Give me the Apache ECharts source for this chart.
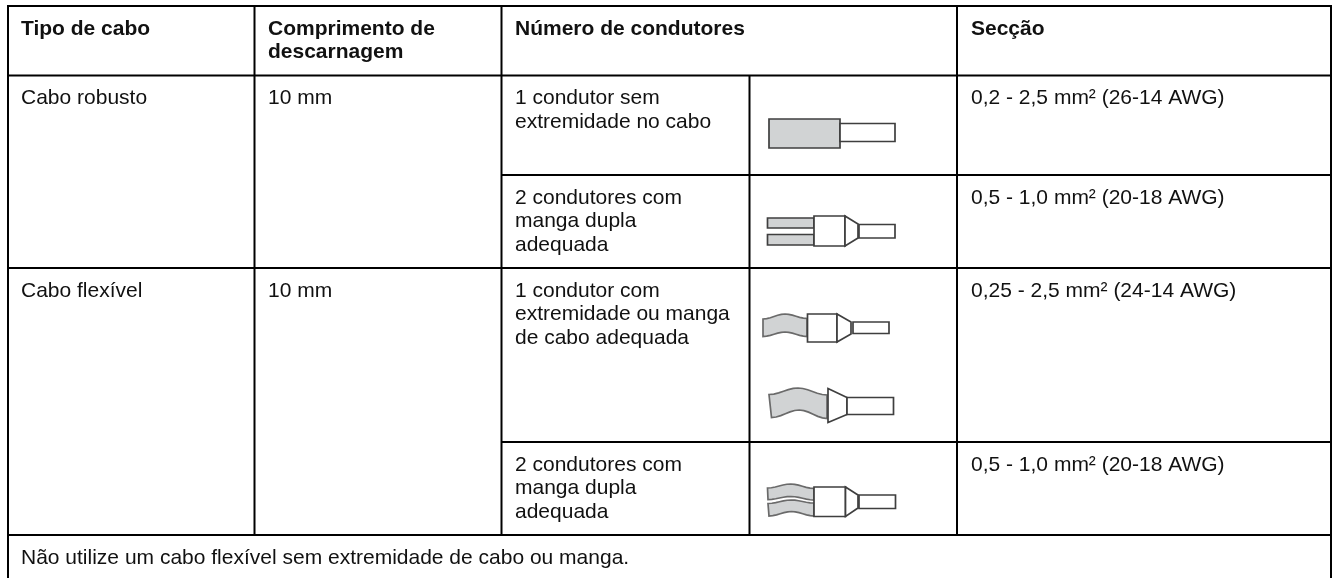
<!DOCTYPE html>
<html><head><meta charset="utf-8">
<style>html,body{margin:0;padding:0;background:#fff}#c{width:1334px;height:578px}</style>
<script src="https://cdn.jsdelivr.net/npm/echarts@6/dist/echarts.min.js"></script>
</head><body><div id="c"></div>
<script>
// ---- table content ----
const headers = ["Tipo de cabo", "Comprimento de\ndescarnagem", "Número de condutores", "Secção"];
const cableTypes = ["Cabo robusto", "Cabo flexível"];
const stripLengths = ["10 mm", "10 mm"];
const conductorKinds = [
  "1 condutor sem\nextremidade no cabo",
  "2 condutores com\nmanga dupla\nadequada",
  "1 condutor com\nextremidade ou manga\nde cabo adequada",
  "2 condutores com\nmanga dupla\nadequada"
];
const sections = [
  "0,2 - 2,5 mm² (26-14 AWG)",
  "0,5 - 1,0 mm² (20-18 AWG)",
  "0,25 - 2,5 mm² (24-14 AWG)",
  "0,5 - 1,0 mm² (20-18 AWG)"
];
const footnote = "Não utilize um cabo flexível sem extremidade de cabo ou manga.";

// ---- layout ----
const colX = [8, 254.5, 501.5, 749.5, 957, 1331];
const rowY = [6, 75.5, 175, 268, 442, 535];
const FONT = '"Liberation Sans", Arial, sans-serif';
const FS = 21, LH = 23.5;
const INK = '#111';

const g = [];
function line(x1, y1, x2, y2) {
  g.push({type:'line', shape:{x1,y1,x2,y2}, style:{stroke:'#000', lineWidth:2}, silent:true});
}
function text(x, y, t, bold) {
  g.push({type:'text', x, y, silent:true, style:{text:t, x:0, y:0, fill:INK,
    font:(bold?'bold ':'')+FS+'px '+FONT, lineHeight:LH, verticalAlign:'top', align:'left'}});
}
line(colX[0], rowY[0]-1, colX[0], 578);
line(colX[5], rowY[0]-1, colX[5], 578);
line(colX[0], rowY[0], colX[5], rowY[0]);
line(colX[0], rowY[1], colX[5], rowY[1]);
line(colX[2], rowY[2], colX[5], rowY[2]);
line(colX[0], rowY[3], colX[5], rowY[3]);
line(colX[2], rowY[4], colX[5], rowY[4]);
line(colX[0], rowY[5], colX[5], rowY[5]);
line(colX[1], rowY[0], colX[1], rowY[5]);
line(colX[2], rowY[0], colX[2], rowY[5]);
line(colX[3], rowY[1], colX[3], rowY[5]);
line(colX[4], rowY[0], colX[4], rowY[5]);
const TX = [21, 268, 515, 0, 971];
const PAD = 11;
[0,1,2].forEach(i => text(TX[i], rowY[0]+PAD, headers[i], true));
text(TX[4], rowY[0]+PAD, headers[3], true);
[0,1].forEach(i => {
  const ry = i === 0 ? rowY[1] : rowY[3];
  text(TX[0], ry+PAD, cableTypes[i]);
  text(TX[1], ry+PAD, stripLengths[i]);
});
[0,1,2,3].forEach(i => {
  text(TX[2], rowY[i+1]+PAD, conductorKinds[i]);
  text(TX[4], rowY[i+1]+PAD, sections[i]);
});
text(TX[0], rowY[5]+PAD, footnote);

// cable illustrations
const EDGE = '#3f3f3f', GREY = '#d1d3d4', WL = 1.7;
function rect(x1,y1,x2,y2,fill){
  g.push({type:'rect', shape:{x:x1,y:y1,width:x2-x1,height:y2-y1}, style:{fill:fill||'#fff', stroke:EDGE, lineWidth:WL}, silent:true});
}
function poly(points,fill){
  g.push({type:'polygon', shape:{points}, style:{fill:fill||'#fff', stroke:EDGE, lineWidth:WL}, silent:true});
}
function ease(a,b,t){ return a+(b-a)*(1-Math.cos(Math.PI*t))/2; }
function wave(xl,xr,tl,tm,tr,bl,bm,br,xl2){
  const pts=[], N=12;
  for(let i=0;i<=N;i++){const t=i/N; pts.push([xl+(xr-xl)*t, t<.5?ease(tl,tm,t*2):ease(tm,tr,t*2-1)]);}
  for(let i=N;i>=0;i--){const t=i/N; pts.push([xl2+(xr-xl2)*t, t<.5?ease(bl,bm,t*2):ease(bm,br,t*2-1)]);}
  g.push({type:'polygon', shape:{points:pts}, style:{fill:GREY, stroke:'#6a6a6a', lineWidth:WL}, silent:true});
}
rect(769,119,840,148,GREY); rect(840,123.5,895,141.5);
rect(767.5,218,814,228,GREY); rect(767.5,234.5,814,245,GREY);
rect(814,216,845,246); poly([[845,216],[858,224],[858,238],[845,246]]); rect(859,224.5,895,238);
wave(763,807,319,314,318.5,336.5,332,336.5,763);
rect(807.5,314,837,342); poly([[837,314],[851,322],[851,334],[837,342]]); rect(853,322,889,333.5);
wave(769,827,394.5,388,395,417.5,410,418.5,771.5);
poly([[828,388.5],[847,397.5],[847,414.5],[828,422.5]]); rect(847,397.5,893.5,414.5);
wave(767.5,814,488,484,488.5,499.5,496.5,500,768);
wave(768,814,503.5,500,503,516,511.5,516,769);
rect(814,487,845.5,516.5); poly([[845.5,487],[858,495],[858,508],[845.5,516.5]]); rect(859,495,895.5,508.5);

const chart = echarts.init(document.getElementById('c'), null, {renderer:'canvas'});
chart.setOption({backgroundColor:'#fff', animation:false, graphic:{elements:g}});
</script></body></html>
